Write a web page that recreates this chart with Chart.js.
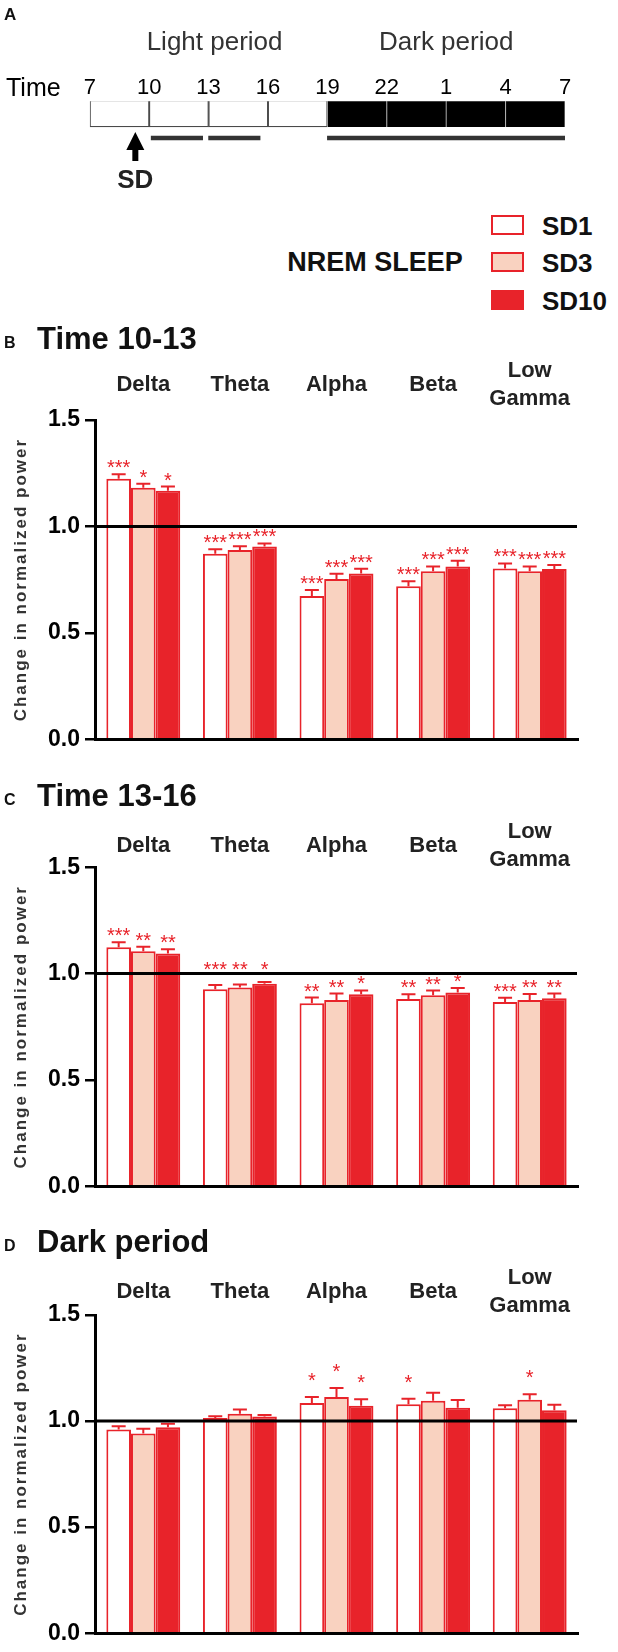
<!DOCTYPE html>
<html>
<head>
<meta charset="utf-8">
<title>NREM sleep power</title>
<script src="https://cdn.jsdelivr.net/npm/chart.js@4.4.0/dist/chart.umd.min.js"></script>
<style>
  html, body { margin: 0; padding: 0; background: #fff; }
  body { position: relative; width: 618px; height: 1652px; overflow: hidden;
         font-family: "Liberation Sans", Arial, Helvetica, sans-serif; }
  .t { position: absolute; white-space: nowrap; line-height: 1; color: #111; }
  .b { font-weight: bold; }
  canvas { position: absolute; left: 0; }
  .key { position: absolute; left: 491px; width: 33px; height: 20px; box-sizing: border-box; border: 2px solid #e8232a; }
</style>
</head>
<body>
<canvas id="timeline" width="618" height="200" style="top:0"></canvas>
<canvas id="panelB" width="618" height="440" style="top:318px"></canvas>
<canvas id="panelC" width="618" height="440" style="top:765px"></canvas>
<canvas id="panelD" width="618" height="440" style="top:1212px"></canvas>

<div class="t b" style="left:4px;top:6px;font-size:17px">A</div>
<div class="t" style="left:6px;top:75px;font-size:25px;color:#000">Time</div>

<div class="t b" style="left:375px;top:249px;font-size:27px;transform:translateX(-50%)">NREM SLEEP</div>
<div class="key" style="top:215px;background:#fff"></div>
<div class="key" style="top:252px;background:#f9d2c0"></div>
<div class="key" style="top:290px;background:#e8232a"></div>
<div class="t b" style="left:542px;top:213px;font-size:26px">SD1</div>
<div class="t b" style="left:542px;top:250px;font-size:26px">SD3</div>
<div class="t b" style="left:542px;top:288px;font-size:26px">SD10</div>

<div class="t b" style="left:4px;top:335px;font-size:16px">B</div>
<div class="t b" style="left:37px;top:323px;font-size:31px">Time 10-13</div>
<div class="t b" style="left:4px;top:792px;font-size:16px">C</div>
<div class="t b" style="left:37px;top:780px;font-size:31px">Time 13-16</div>
<div class="t b" style="left:4px;top:1238px;font-size:16px">D</div>
<div class="t b" style="left:37px;top:1226px;font-size:31px">Dark period</div>

<script>
const RED = "#e8232a";
const PEACH = "#f9d2c0";
const FONT = '"Liberation Sans", Arial, sans-serif';

const bands = ["Delta", "Theta", "Alpha", "Beta", "Low Gamma"];
const groups = ["SD1", "SD3", "SD10"];

// timeline, hours (25 = 1 h next day)
const hourTicks = [7, 10, 13, 16, 19, 22, 25, 28, 31];
const blockStart = [7, 10, 13, 16, 19, 22, 25, 28];
const blockEnd = [10, 13, 16, 19, 22, 25, 28, 31];
const lightsOff = 19;
const recStart = [10.1, 13.0, 19.0];
const recEnd = [12.7, 15.6, 31.0];
const sdHour = 9.3;

// B: time 10-13
const b_sd1 = [1.224, 0.872, 0.673, 0.719, 0.802];
const b_sd3 = [1.182, 0.889, 0.753, 0.789, 0.789];
const b_sd10 = [1.168, 0.906, 0.779, 0.812, 0.800];
const b_err1 = [0.021, 0.021, 0.028, 0.023, 0.024];
const b_err3 = [0.018, 0.018, 0.025, 0.023, 0.023];
const b_err10 = [0.019, 0.014, 0.022, 0.026, 0.019];
const b_sig1 = ["***", "***", "***", "***", "***"];
const b_sig3 = ["*", "***", "***", "***", "***"];
const b_sig10 = ["*", "***", "***", "***", "***"];

// C: time 13-16
const c_sd1 = [1.124, 0.926, 0.861, 0.881, 0.866];
const c_sd3 = [1.105, 0.935, 0.876, 0.898, 0.876];
const c_sd10 = [1.094, 0.952, 0.903, 0.911, 0.884];
const c_err1 = [0.023, 0.020, 0.026, 0.022, 0.020];
const c_err3 = [0.021, 0.014, 0.030, 0.022, 0.028];
const c_err10 = [0.020, 0.009, 0.018, 0.021, 0.022];
const c_sig1 = ["***", "***", "**", "**", "***"];
const c_sig3 = ["**", "**", "**", "**", "**"];
const c_sig10 = ["**", "*", "*", "*", "**"];

// D: dark period
const d_sd1 = [0.960, 1.015, 1.085, 1.079, 1.060];
const d_sd3 = [0.941, 1.034, 1.114, 1.096, 1.100];
const d_sd10 = [0.971, 1.021, 1.072, 1.063, 1.051];
const d_err1 = [0.015, 0.008, 0.029, 0.026, 0.015];
const d_err3 = [0.023, 0.020, 0.042, 0.038, 0.026];
const d_err10 = [0.016, 0.008, 0.031, 0.036, 0.026];
const d_sig1 = ["", "", "*", "*", ""];
const d_sig3 = ["", "", "*", "", "*"];
const d_sig10 = ["", "", "*", "", ""];

// ---- panel A: the recording timeline ----
const timelineDecor = {
  id: "timelineDecor",
  afterDraw(chart) {
    const { ctx, scales: { x } } = chart;
    ctx.save();
    ctx.fillStyle = "#333";
    ctx.font = "26px " + FONT;
    ctx.textAlign = "center";
    ctx.textBaseline = "alphabetic";
    ctx.fillText("Light period", x.getPixelForValue(13) + 6, 50);
    ctx.fillText("Dark period", x.getPixelForValue(25), 50);
    // SD arrow
    const ax = x.getPixelForValue(sdHour);
    ctx.fillStyle = "#000";
    ctx.fillRect(ax - 3, 148, 6, 13);
    ctx.beginPath();
    ctx.moveTo(ax, 132);
    ctx.lineTo(ax - 9, 150);
    ctx.lineTo(ax + 9, 150);
    ctx.closePath();
    ctx.fill();
    ctx.fillStyle = "#222";
    ctx.font = "bold 26px " + FONT;
    ctx.fillText("SD", ax, 188);
    ctx.restore();
  },
};

new Chart(document.getElementById("timeline"), {
  type: "bar",
  data: {
    labels: ["box", "rec"],
    datasets: [
      {
        data: blockStart.map((s, i) => ({ x: [s, blockEnd[i]], y: "box" })),
        barThickness: 27,
        borderSkipped: false,
        backgroundColor: (c) => (c.raw && c.raw.x[0] >= lightsOff ? "#000" : "#fff"),
        borderColor: (c) => (c.raw && c.raw.x[0] >= lightsOff ? "#b5b5b5" : "#4a4a4a"),
        borderWidth: (c) =>
          c.raw && c.raw.x[0] >= lightsOff ? { left: 0.8, right: 0.8, top: 0, bottom: 0 } : 1.3,
      },
      {
        data: recStart.map((s, i) => ({ x: [s, recEnd[i]], y: "rec" })),
        barThickness: 4,
        backgroundColor: "#333",
        borderWidth: 0,
      },
    ],
  },
  plugins: [timelineDecor],
  options: {
    indexAxis: "y",
    responsive: false,
    animation: false,
    grouped: false,
    layout: { padding: { left: 89.8, right: 53, top: 71.25, bottom: 49.75 } },
    scales: {
      x: {
        type: "linear",
        position: "top",
        min: 7,
        max: 31,
        afterBuildTicks: (s) => { s.ticks = hourTicks.map((v) => ({ value: v })); },
        afterFit: (s) => { s.height = 30; },
        grid: { display: false, drawTicks: false },
        border: { display: false },
        ticks: {
          autoSkip: false,
          maxRotation: 0,
          padding: 0,
          color: "#000",
          font: { family: FONT, size: 22 },
          callback: (v) => String(v > 24 ? v - 24 : v),
        },
      },
      y: { type: "category", display: false, offset: true },
    },
    plugins: { legend: { display: false }, tooltip: { enabled: false } },
  },
});

// ---- panels B-D ----
const panelDecor = {
  id: "panelDecor",
  afterDatasetsDraw(chart, args, opts) {
    const { ctx, chartArea: ca, scales: { y } } = chart;
    const y1 = y.getPixelForValue(1);
    ctx.save();
    ctx.font = "20px " + FONT;
    ctx.textAlign = "center";
    ctx.textBaseline = "alphabetic";
    chart.data.datasets.forEach((ds, di) => {
      chart.getDatasetMeta(di).data.forEach((bar, i) => {
        const top = y.getPixelForValue(ds.data[i] + opts.errors[di][i]);
        ctx.strokeStyle = RED;
        ctx.lineWidth = 2;
        ctx.beginPath();
        ctx.moveTo(bar.x, bar.y);
        ctx.lineTo(bar.x, top);
        ctx.moveTo(bar.x - 7, top);
        ctx.lineTo(bar.x + 7, top);
        ctx.stroke();
        const s = opts.stars[di][i];
        if (s) {
          const m = ctx.measureText(s);
          let yb = top - opts.starLift;
          // lift the stars above the 1.0 line when they would sit on it
          const gTop = yb - m.actualBoundingBoxAscent;
          const gBot = yb + m.actualBoundingBoxDescent;
          if (gTop < y1 - 0.5 && gBot > y1 - 1.5) yb = y1 - 4 - m.actualBoundingBoxDescent;
          ctx.fillStyle = RED;
          ctx.fillText(s, bar.x, yb);
        }
      });
    });
    // baseline at 1.0
    ctx.strokeStyle = "#000";
    ctx.lineWidth = 3;
    ctx.beginPath();
    ctx.moveTo(ca.left, y1);
    ctx.lineTo(ca.right - 1, y1);
    ctx.stroke();
    ctx.restore();
  },
  afterDraw(chart, args, opts) {
    const { ctx, chartArea: ca, scales: { x } } = chart;
    ctx.save();
    // band names above the plot
    ctx.fillStyle = "#222";
    ctx.font = "bold 22px " + FONT;
    ctx.textAlign = "center";
    ctx.textBaseline = "alphabetic";
    const cy = ca.top + opts.labelOffset;
    chart.data.labels.forEach((lab, i) => {
      const lines = lab.split(" ");
      const cx = x.getPixelForValue(i);
      lines.forEach((ln, k) => {
        const ly = cy + (k - (lines.length - 1) / 2) * 28;
        ctx.fillText(ln, cx, ly + 7.9);
      });
    });
    // y axis title
    ctx.translate(21, (ca.top + ca.bottom) / 2);
    ctx.rotate(-Math.PI / 2);
    ctx.fillStyle = "#333";
    ctx.font = "bold 17px " + FONT;
    ctx.letterSpacing = "2px";
    ctx.textBaseline = "middle";
    ctx.fillText("Change in normalized power", 0, 0);
    ctx.restore();
  },
};

function makePanel(id, vals, errs, sigs, top, axisTop, axisBottom, labelOffset, starLift) {
  const h = 440;
  new Chart(document.getElementById(id), {
    type: "bar",
    data: {
      labels: bands,
      datasets: [
        { label: groups[0], data: vals[0], backgroundColor: "#fff", borderColor: RED, borderWidth: 2 },
        { label: groups[1], data: vals[1], backgroundColor: PEACH, borderColor: RED, borderWidth: 2 },
        { label: groups[2], data: vals[2], backgroundColor: RED, borderColor: RED, borderWidth: 2 },
      ],
    },
    plugins: [panelDecor],
    options: {
      responsive: false,
      animation: false,
      categoryPercentage: 0.765,
      barPercentage: 1,
      layout: { padding: { left: 0, right: 40, top: axisTop - top, bottom: 0 } },
      scales: {
        x: {
          grid: { display: false, drawTicks: false },
          ticks: { display: false },
          border: { display: true, color: "#000", width: 3 },
          afterFit: (s) => { s.height = h - (axisBottom - top); },
        },
        y: {
          min: 0,
          max: 1.5,
          afterBuildTicks: (s) => { s.ticks = [0, 0.5, 1, 1.5].map((v) => ({ value: v })); },
          afterFit: (s) => { s.width = 95; },
          grid: { drawOnChartArea: false, drawTicks: true, tickLength: 10, color: "#000", lineWidth: 2.5 },
          border: { display: true, color: "#000", width: 3 },
          ticks: {
            padding: 5,
            color: "#000",
            font: { family: FONT, size: 23, weight: "bold" },
            callback: (v) => v.toFixed(1),
          },
        },
      },
      plugins: {
        legend: { display: false },
        tooltip: { enabled: false },
        panelDecor: { errors: errs, stars: sigs, labelOffset: labelOffset, starLift: starLift },
      },
    },
  });
}

makePanel("panelB", [b_sd1, b_sd3, b_sd10], [b_err1, b_err3, b_err10], [b_sig1, b_sig3, b_sig10],
  318, 420, 743.3, -36.5, 0);
makePanel("panelC", [c_sd1, c_sd3, c_sd10], [c_err1, c_err3, c_err10], [c_sig1, c_sig3, c_sig10],
  765, 867.3, 1190.7, -23.3, 0);
makePanel("panelD", [d_sd1, d_sd3, d_sd10], [d_err1, d_err3, d_err10], [d_sig1, d_sig3, d_sig10],
  1212, 1315, 1638.3, -25, 10);
</script>
</body>
</html>
